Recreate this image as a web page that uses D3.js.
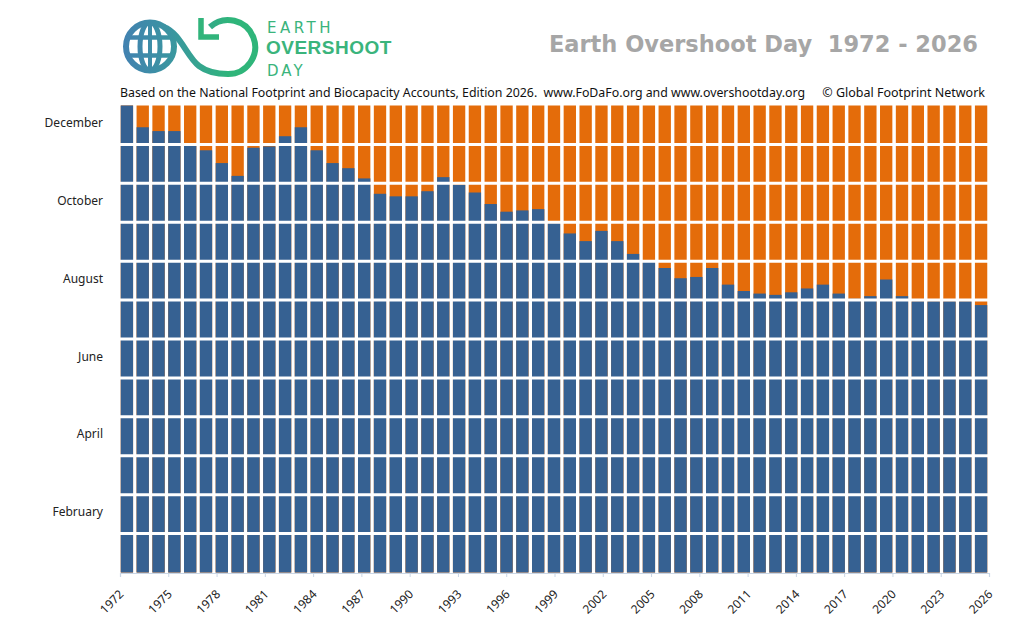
<!DOCTYPE html>
<html>
<head>
<meta charset="utf-8">
<script src="https://cdn.jsdelivr.net/npm/d3@7"></script>
<style>
body { margin: 0; background: #fff; }
svg text { white-space: pre; }
</style>
</head>
<body>
<svg id="chart" width="1024" height="618"></svg>
<script>

// years shown as bars, one per year
const YEARS = d3.range(1972, 2027);

// overshoot day, as day of the year (365 = 31 December)
const OVERSHOOT_DAY = [
	365, 348, 345, 345, 335, 330, 320, 310, 332, 333,
	341, 348, 330, 320, 316, 308, 296, 294, 294, 298,
	309, 303, 297, 288, 282, 283, 284, 273, 265, 259,
	267, 259, 249, 244, 238, 230, 231, 238, 225, 220,
	218, 217, 219, 222, 225, 218, 214, 216, 229, 216,
	212, 212, 212, 212, 209
];

const MONTH_LABELS = ['February', 'April', 'June', 'August', 'October', 'December'];
const MONTH_INDEX = [1, 3, 5, 7, 9, 11];
const TICK_YEARS = d3.range(1972, 2027, 3);

const TITLE = 'Earth Overshoot Day  1972 - 2026';
const SOURCE = 'Based on the National Footprint and Biocapacity Accounts, Edition 2026.  www.FoDaFo.org and www.overshootday.org';
const COPYRIGHT = '\u00a9 Global Footprint Network';

const BLUE = '#366192';
const ORANGE = '#e46c0a';

const box = { left: 119, right: 989, top: 105.5, bottom: 572.5 };

const data = YEARS.map((y, i) => ({ year: y, day: OVERSHOOT_DAY[i] }));

const svg = d3.select('#chart');

// scales
const x = d3.scaleBand()
	.domain(YEARS)
	.range([box.left, box.right])
	.paddingInner(0.22)
	.paddingOuter(0.11);

const xTick = d3.scaleLinear()
	.domain([1972, 2026])
	.range([box.left + 1, box.right]);

const y = d3.scaleLinear()
	.domain([0, 365])
	.range([box.bottom, box.top]);

// orange = the rest of the year, drawn full height behind
svg.append('g').selectAll('rect')
	.data(data)
	.enter().append('rect')
	.attr('x', d => x(d.year))
	.attr('y', y(365))
	.attr('width', x.bandwidth())
	.attr('height', y(0) - y(365))
	.style('fill', ORANGE);

// blue = days until overshoot
svg.append('g').selectAll('rect')
	.data(data)
	.enter().append('rect')
	.attr('x', d => x(d.year))
	.attr('y', d => y(d.day))
	.attr('width', x.bandwidth())
	.attr('height', d => y(0) - y(d.day))
	.style('fill', BLUE);

// white month separators
svg.append('g').selectAll('line')
	.data(d3.range(1, 12))
	.enter().append('line')
	.attr('x1', box.left)
	.attr('x2', box.right)
	.attr('y1', k => y(k * 365 / 12))
	.attr('y2', k => y(k * 365 / 12))
	.style('stroke', '#fff')
	.style('stroke-width', 3);

// month labels
svg.append('g').selectAll('text')
	.data(MONTH_LABELS)
	.enter().append('text')
	.attr('x', 103)
	.attr('y', (d, i) => y((MONTH_INDEX[i] + 0.5) * 365 / 12) - 2)
	.attr('dy', '0.35em')
	.attr('text-anchor', 'end')
	.style('font-family', '"Noto Sans", sans-serif')
	.style('font-size', '12px')
	.style('fill', '#222')
	.text(d => d);

// x axis
const xAxis = svg.append('g')
	.attr('transform', 'translate(0,' + (box.bottom + 0.5) + ')')
	.call(d3.axisBottom(xTick).tickValues(TICK_YEARS).tickSize(4).tickFormat(d3.format('d')));

xAxis.select('.domain').style('stroke', '#c9d6e6').style('stroke-width', 1.2);
xAxis.selectAll('.tick line').style('stroke', '#c9d6e6');
xAxis.selectAll('.tick text')
	.attr('x', 0)
	.attr('y', 0)
	.attr('dy', '0.35em')
	.attr('text-anchor', 'end')
	.attr('transform', 'translate(1,19) rotate(-45)')
	.style('font-family', '"Noto Sans", sans-serif')
	.style('font-size', '12px')
	.style('fill', '#222');

// title and source line
svg.append('text')
	.attr('x', 978)
	.attr('y', 52)
	.attr('text-anchor', 'end')
	.style('font-family', '"DejaVu Sans", Verdana, sans-serif')
	.style('font-weight', 'bold')
	.style('font-size', '22.5px')
	.style('fill', '#a6a6a6')
	.text(TITLE);

svg.append('text')
	.attr('x', 120)
	.attr('y', 97)
	.attr('textLength', 685)
	.attr('lengthAdjust', 'spacingAndGlyphs')
	.style('font-family', '"Noto Sans", sans-serif')
	.style('font-size', '12.5px')
	.style('fill', '#111')
	.text(SOURCE);

svg.append('text')
	.attr('x', 985)
	.attr('y', 97)
	.attr('text-anchor', 'end')
	.style('font-family', '"Noto Sans", sans-serif')
	.style('font-size', '12.5px')
	.style('fill', '#111')
	.text(COPYRIGHT);

// logo
const defs = svg.append('defs');
const grad = defs.append('linearGradient')
	.attr('id', 'loopGrad')
	.attr('gradientUnits', 'userSpaceOnUse')
	.attr('x1', 125).attr('y1', 0)
	.attr('x2', 230).attr('y2', 0);
grad.append('stop').attr('offset', 0).attr('stop-color', '#4282b0');
grad.append('stop').attr('offset', 0.45).attr('stop-color', '#3a96a0');
grad.append('stop').attr('offset', 1).attr('stop-color', '#2fb57a');

const logo = svg.append('g')
	.style('fill', 'none')
	.style('stroke', 'url(#loopGrad)')
	.style('stroke-linecap', 'butt');

logo.append('circle')
	.attr('cx', 150).attr('cy', 46.5).attr('r', 24)
	.style('stroke-width', 6);
logo.append('ellipse')
	.attr('cx', 150).attr('cy', 46.5).attr('rx', 10).attr('ry', 24)
	.style('stroke-width', 5);
logo.append('line')
	.attr('x1', 150).attr('x2', 150).attr('y1', 23).attr('y2', 70)
	.style('stroke-width', 4);
logo.append('line')
	.attr('x1', 129).attr('x2', 171).attr('y1', 37.5).attr('y2', 37.5)
	.style('stroke-width', 4.5);
logo.append('line')
	.attr('x1', 129).attr('x2', 171).attr('y1', 55.5).attr('y2', 55.5)
	.style('stroke-width', 4.5);

logo.append('path')
	.attr('d', 'M164,27 C180,33 187,57 199,66 C207,72 216,74 228,74 A27,27 0 1 0 210,27')
	.style('stroke-width', 6);
logo.append('path')
	.attr('d', 'M201,18 L201,37 L219,37')
	.style('stroke', '#31b47b').style('stroke-width', 5.5)
	.style('stroke-linejoin', 'miter');

const logoText = svg.append('g')
	.style('font-family', '"DejaVu Sans", sans-serif')
	.style('fill', '#3ab47c');
logoText.append('text')
	.attr('x', 267).attr('y', 33)
	.style('font-size', '15px').style('letter-spacing', '3.5px')
	.text('EARTH');
logoText.append('text')
	.attr('x', 266).attr('y', 54)
	.style('font-family', '"Liberation Sans", Arial, sans-serif')
	.style('font-size', '19px').style('font-weight', 'bold').style('letter-spacing', '0.5px')
	.text('OVERSHOOT');
logoText.append('text')
	.attr('x', 267).attr('y', 76)
	.style('font-size', '15px').style('letter-spacing', '3px')
	.text('DAY');

</script>
</body>
</html>
